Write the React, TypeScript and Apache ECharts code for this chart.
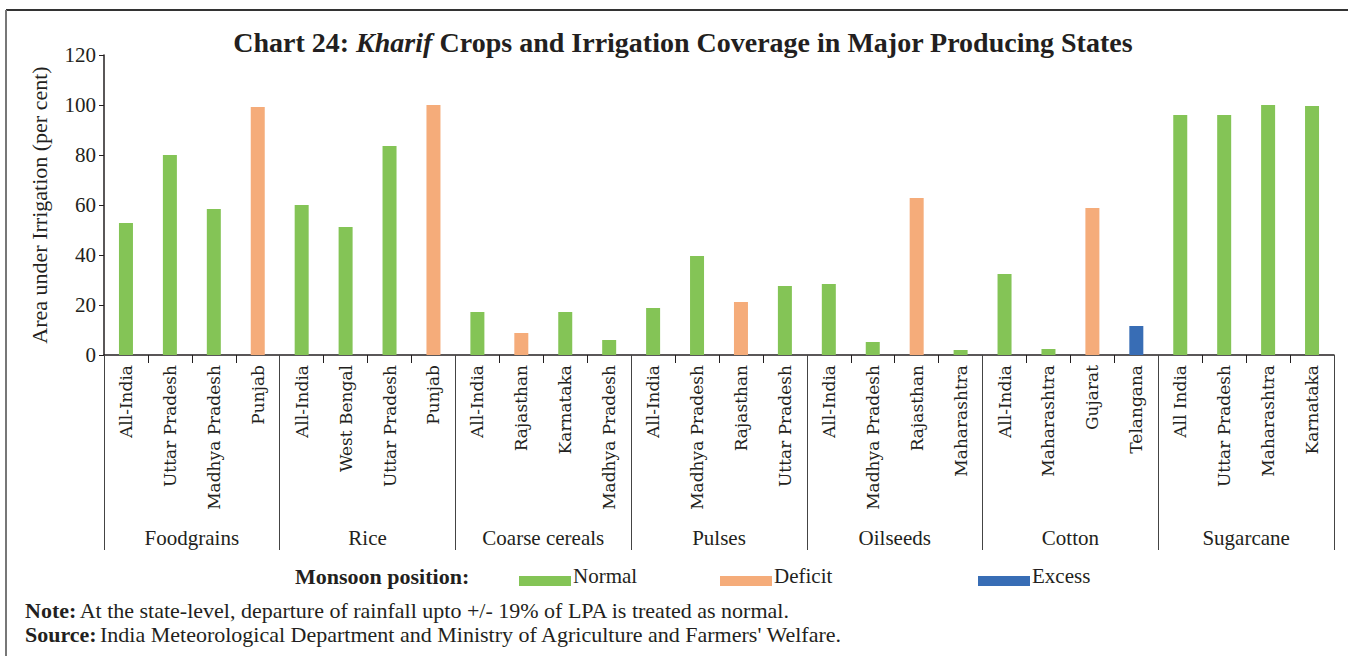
import React, { useEffect, useRef } from "react";
import * as echarts from "echarts";

const categories = [
  "All-India", "Uttar Pradesh", "Madhya Pradesh", "Punjab",
  "All-India", "West Bengal", "Uttar Pradesh", "Punjab",
  "All-India", "Rajasthan", "Karnataka", "Madhya Pradesh",
  "All-India", "Madhya Pradesh", "Rajasthan", "Uttar Pradesh",
  "All-India", "Madhya Pradesh", "Rajasthan", "Maharashtra",
  "All-India", "Maharashtra", "Gujarat", "Telangana",
  "All India", "Uttar Pradesh", "Maharashtra", "Karnataka",
];
const groups = ["Foodgrains", "Rice", "Coarse cereals", "Pulses", "Oilseeds", "Cotton", "Sugarcane"];
const values = [
  52.8, 80, 58.4, 99.2,
  60, 51.2, 83.6, 100,
  17.2, 8.8, 17.2, 6.0,
  18.8, 39.6, 21.2, 27.6,
  28.4, 5.2, 62.8, 2.0,
  32.4, 2.4, 58.8, 11.6,
  96, 96, 100, 99.6,
];
// N = Normal, D = Deficit, E = Excess
const positions = [
  "N", "N", "N", "D",
  "N", "N", "N", "D",
  "N", "D", "N", "N",
  "N", "N", "D", "N",
  "N", "N", "D", "N",
  "N", "N", "D", "E",
  "N", "N", "N", "N",
];
const yTicks = { min: 0, max: 120, interval: 20 };

const seriesDefs = [
  { name: "Normal", code: "N", color: "#84C456" },
  { name: "Deficit", code: "D", color: "#F5AC7A" },
  { name: "Excess", code: "E", color: "#386DB5" },
];

const serif = "Liberation Serif";
const wideSerif = "DejaVu Serif";
const textColor = "#231F20";

export default function App() {
  const ref = useRef<HTMLDivElement>(null);
  useEffect(() => {
    document.body.style.margin = "0";
    const chart = echarts.init(ref.current!, null, { renderer: "svg" });
    const series = seriesDefs.map((s) => ({
      name: s.name,
      type: "bar",
      stack: "one",
      barWidth: 14,
      itemStyle: { color: s.color },
      data: values.map((v, i) => (positions[i] === s.code ? v : "-")),
    }));
    const legendLefts = [514, 715, 973];
    const legendTexts = seriesDefs.map((s, i) => ({
      type: "text",
      x: legendLefts[i] + 59,
      y: 576,
      style: {
        text: "{t|" + s.name + "}",
        verticalAlign: "middle",
        rich: { t: { fontFamily: serif, fontSize: 21, fill: textColor } },
      },
    }));
    chart.setOption({
      animation: false,
      backgroundColor: "#ffffff",
      textStyle: { fontFamily: serif, color: textColor },
      grid: { left: 104, right: 14, top: 55, bottom: 301, containLabel: false },
      legend: seriesDefs.map((s, i) => ({
        data: [{ name: s.name, icon: "rect" }],
        left: legendLefts[i],
        top: 571,
        itemWidth: 52,
        itemHeight: 10,
        formatter: () => "",
        textStyle: { fontSize: 10 },
      })),
      xAxis: [
        {
          type: "category",
          data: categories,
          boundaryGap: true,
          axisLine: { lineStyle: { color: "#231F20", width: 1.5 } },
          axisTick: { show: true, interval: 0, length: 8, lineStyle: { color: "#231F20" } },
          axisLabel: {
            interval: 0,
            rotate: 90,
            margin: 10,
            fontFamily: wideSerif,
            fontSize: 17,
            color: textColor,
          },
        },
        {
          type: "category",
          data: groups,
          position: "bottom",
          boundaryGap: true,
          axisLine: { show: false },
          axisTick: { show: true, interval: 0, length: 195, lineStyle: { color: "#444" } },
          axisLabel: {
            interval: 0,
            margin: 172,
            fontFamily: serif,
            fontSize: 21,
            color: textColor,
          },
        },
      ],
      yAxis: {
        type: "value",
        min: yTicks.min,
        max: yTicks.max,
        interval: yTicks.interval,
        name: "Area under Irrigation (per cent)",
        nameLocation: "middle",
        nameGap: 54,
        nameTextStyle: { fontFamily: serif, fontSize: 22, color: textColor },
        axisLine: { show: true, lineStyle: { color: "#231F20", width: 1.5 } },
        axisTick: { show: true, length: 5, lineStyle: { color: "#231F20" } },
        splitLine: { show: false },
        axisLabel: { fontFamily: serif, fontSize: 21, color: textColor, margin: 8 },
      },
      graphic: [
        { type: "line", shape: { x1: 6, y1: 10, x2: 1348, y2: 10 }, style: { stroke: "#333", lineWidth: 2 } },
        { type: "line", shape: { x1: 6, y1: 10, x2: 6, y2: 656 }, style: { stroke: "#777", lineWidth: 2 } },
        {
          type: "text",
          x: 683,
          y: 42,
          style: {
            text: "{b|Chart 24: }{bi|Kharif}{b| Crops and Irrigation Coverage in Major Producing States}",
            align: "center",
            verticalAlign: "middle",
            rich: {
              b: { fontFamily: serif, fontWeight: "bold", fontSize: 28, fill: textColor },
              bi: { fontFamily: serif, fontWeight: "bold", fontStyle: "italic", fontSize: 28, fill: textColor },
            },
          },
        },
        {
          type: "text",
          x: 295,
          y: 576,
          style: {
            text: "{b|Monsoon position:}",
            verticalAlign: "middle",
            rich: {
              b: { fontFamily: serif, fontWeight: "bold", fontSize: 22, fill: textColor },
            },
          },
        },
        ...legendTexts,
        {
          type: "text",
          x: 25,
          y: 610,
          style: {
            text: "{b|Note:} {r|At the state-level, departure of rainfall upto +/- 19% of LPA is treated as normal.}",
            verticalAlign: "middle",
            rich: {
              b: { fontFamily: serif, fontWeight: "bold", fontSize: 22, fill: textColor },
              r: { fontFamily: serif, fontSize: 22, fill: textColor },
            },
          },
        },
        {
          type: "text",
          x: 25,
          y: 634,
          style: {
            text: "{b|Source:} {r|India Meteorological Department and Ministry of Agriculture and Farmers' Welfare.}",
            verticalAlign: "middle",
            rich: {
              b: { fontFamily: serif, fontWeight: "bold", fontSize: 22, fill: textColor },
              r: { fontFamily: serif, fontSize: 22, fill: textColor },
            },
          },
        },
      ],
      series,
    });
    return () => chart.dispose();
  }, []);
  return <div ref={ref} style={{ position: "absolute", left: 0, top: 0, width: 1348, height: 656 }} />;
}
